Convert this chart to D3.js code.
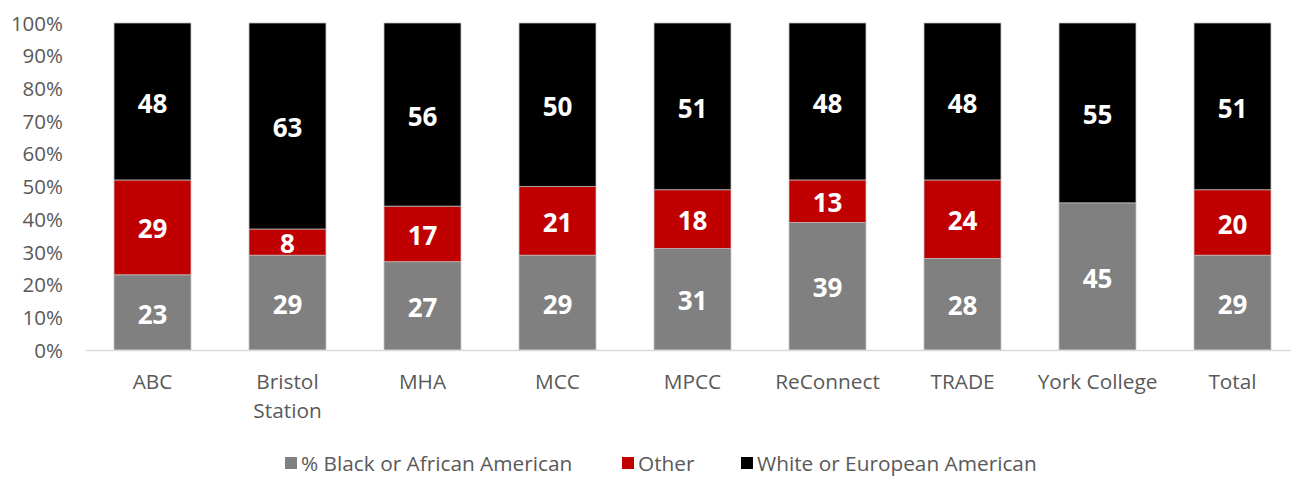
<!DOCTYPE html>
<html>
  <head>
    <meta charset="utf-8">
    <title>Stacked share by program</title>
    <script src="https://d3js.org/d3.v7.min.js"></script>
    <style>
      body { margin: 0; background: #fff; }
      text { font-family: "Open Sans", Lato, sans-serif; }
      .tick text { fill: #595959; font-size: 20.5px; }
      .lbl { fill: #fff; font-size: 26px; font-weight: bold; }
      .leg { fill: #595959; font-size: 20.8px; }
    </style>
  </head>
  <body>
    <svg id="svg" width="1291" height="477"></svg>
    <script>
      // data
      var categories = ["ABC", "Bristol Station", "MHA", "MCC", "MPCC", "ReConnect", "TRADE", "York College", "Total"];
      var black = [23, 29, 27, 29, 31, 39, 28, 45, 29];
      var other = [29, 8, 17, 21, 18, 13, 24, 0, 20];
      var white = [48, 63, 56, 50, 51, 48, 48, 55, 51];
      var seriesNames = ["% Black or African American", "Other", "White or European American"];
      var colors = ["#808080", "#c00000", "#000000"];
      var yTicks = [0, 10, 20, 30, 40, 50, 60, 70, 80, 90, 100];

      var rows = categories.map(function(c, i) {
        return { cat: c, s0: black[i], s1: other[i], s2: white[i] };
      });
      var keys = ["s0", "s1", "s2"];
      var stacked = d3.stack().keys(keys)(rows);

      var svg = d3.select("#svg");
      var x = d3.scaleBand().domain(categories).range([85, 1300]).paddingInner(0.43).paddingOuter(0.215);
      var y = d3.scaleLinear().domain([0, 100]).range([350, 23]);

      // y axis (labels only)
      var yAxis = svg.append("g")
        .attr("transform", "translate(63,0)")
        .call(d3.axisLeft(y).tickValues(yTicks).tickSize(0).tickPadding(0).tickFormat(function(d) { return d + "%"; }));
      yAxis.select(".domain").remove();
      yAxis.selectAll("text").attr("dy", "0.35em");

      // bars
      var layers = svg.selectAll(".layer")
          .data(stacked)
        .enter().append("g")
          .attr("fill", function(d, i) { return colors[i]; });
      layers.selectAll("rect")
          .data(function(d) { return d.filter(function(p) { return p[1] - p[0] > 0; }); })
        .enter().append("rect")
          .attr("x", function(d) { return x(d.data.cat); })
          .attr("width", x.bandwidth())
          .attr("y", function(d) { return y(d[1]); })
          .attr("height", function(d) { return y(d[0]) - y(d[1]); })
          .attr("stroke", "#bfbfbf")
          .attr("stroke-width", 0.75);

      // x axis line
      svg.append("line")
        .attr("x1", 86).attr("x2", 1291)
        .attr("y1", y(0) + 0.5).attr("y2", y(0) + 0.5)
        .attr("stroke", "#d9d9d9").attr("stroke-width", 1.5);

      // data labels
      layers.selectAll("text.lbl")
          .data(function(d) { return d.filter(function(p) { return p[1] - p[0] > 0; }); })
        .enter().append("text")
          .classed("lbl", true)
          .attr("text-anchor", "middle")
          .attr("dy", "0.37em")
          .attr("x", function(d) { return x(d.data.cat) + x.bandwidth() / 2; })
          .attr("y", function(d) { return y((d[0] + d[1]) / 2) + 1.5; })
          .text(function(d) { return d[1] - d[0]; });

      // category labels (wrap the long one)
      var catG = svg.append("g");
      categories.forEach(function(c) {
        var lines = (c === "Bristol Station") ? c.split(" ") : [c];
        var t = catG.append("text")
          .attr("class", "leg")
          .attr("text-anchor", "middle")
          .attr("x", x(c) + x.bandwidth() / 2)
          .attr("y", 389);
        lines.forEach(function(l, j) {
          t.append("tspan").attr("x", x(c) + x.bandwidth() / 2).attr("dy", j ? 29 : 0).text(l);
        });
      });

      // legend
      var legX = [285, 622, 741];
      var leg = svg.append("g");
      seriesNames.forEach(function(n, i) {
        leg.append("rect").attr("x", legX[i]).attr("y", 457).attr("width", 12).attr("height", 12).attr("fill", colors[i]);
        leg.append("text").attr("class", "leg").attr("x", legX[i] + 16).attr("y", 471).text(n);
      });
    </script>
  </body>
</html>
